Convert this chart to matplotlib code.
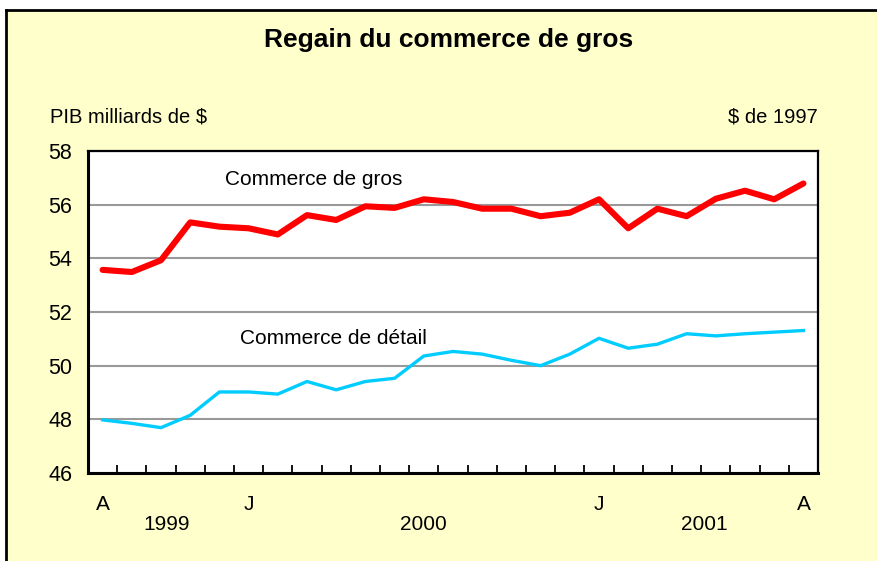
import matplotlib

matplotlib.use("Agg")
import matplotlib.pyplot as plt
from matplotlib.patches import Rectangle
from matplotlib.transforms import blended_transform_factory

plt.rcParams["font.family"] = ["Liberation Sans", "DejaVu Sans"]

# Monthly, August 1999 to August 2001
months = list(range(25))
gros = [53.57, 53.49, 53.93, 55.34, 55.18, 55.12, 54.89, 55.61, 55.43, 55.94,
        55.88, 56.20, 56.10, 55.85, 55.85, 55.57, 55.70, 56.20, 55.12, 55.85,
        55.57, 56.22, 56.52, 56.20, 56.79]
detail = [47.98, 47.85, 47.69, 48.15, 49.02, 49.02, 48.94, 49.41, 49.10, 49.41,
          49.53, 50.36, 50.53, 50.43, 50.20, 50.00, 50.43, 51.02, 50.65, 50.80,
          51.19, 51.11, 51.19, 51.25, 51.31]
month_labels = {0: "A", 5: "J", 17: "J", 24: "A"}
year_labels = {2.2: "1999", 11.0: "2000", 20.6: "2001"}
y_ticks = [46, 48, 50, 52, 54, 56, 58]

BG = "#FFFFCC"

fig = plt.figure(figsize=(8.78, 5.61), dpi=100)
fig.patch.set_facecolor("white")
# yellow panel with black top/left border, kept behind the axes
panel = Rectangle((7 / 878, 0), 1.0, 1 - 11 / 561, transform=fig.transFigure,
                  facecolor=BG, edgecolor="none", zorder=-5)
fig.add_artist(panel)
fig.add_artist(plt.Line2D([6 / 878, 6 / 878], [0, 1 - 10 / 561], color="black",
                          linewidth=2.0, transform=fig.transFigure, zorder=-4))
fig.add_artist(plt.Line2D([6 / 878, 1], [1 - 10 / 561, 1 - 10 / 561], color="black",
                          linewidth=2.0, transform=fig.transFigure, zorder=-4))

ax = fig.add_axes((88 / 878, 1 - 473 / 561, 730 / 878, 322 / 561))
ax.set_facecolor("white")

ax.plot(months, gros, color="#FF0000", linewidth=4.4, solid_joinstyle="round",
        solid_capstyle="round", zorder=3)
ax.plot(months, detail, color="#00CCFF", linewidth=2.4, solid_joinstyle="round", zorder=3)

ax.set_xlim(-0.5, 24.5)
ax.set_ylim(46, 58)
ax.set_yticks(y_ticks)
ax.set_yticklabels([str(v) for v in y_ticks], fontsize=15.5)
ax.tick_params(axis="y", length=0, pad=11.5)
ax.yaxis.grid(True, color="#999999", linewidth=1.5)
ax.set_axisbelow(True)

ax.set_xticks([m + 0.5 for m in months[:-1]])
ax.set_xticklabels([])
ax.tick_params(axis="x", direction="in", length=6, width=1.3, color="black")

for side in ("left", "bottom"):
    ax.spines[side].set_linewidth(2.2)
for side in ("top", "right"):
    ax.spines[side].set_linewidth(1.6)

trans = blended_transform_factory(ax.transData, ax.transAxes)
for x, lab in month_labels.items():
    ax.text(x, -0.097, lab, transform=trans, ha="center", va="center", fontsize=15)
for x, lab in year_labels.items():
    ax.text(x, -0.160, lab, transform=trans, ha="center", va="center", fontsize=15)

ax.text(4.2, 56.95, "Commerce de gros", ha="left", va="center", fontsize=15)
ax.text(4.7, 51.0, "Commerce de détail", ha="left", va="center", fontsize=15)

fig.text(449 / 878, 1 - 40 / 561, "Regain du commerce de gros", ha="center", va="center",
         fontsize=19, fontweight="bold")
fig.text(50 / 878, 1 - 117 / 561, "PIB milliards de $", ha="left", va="center", fontsize=14.5)
fig.text(818 / 878, 1 - 117 / 561, "$ de 1997", ha="right", va="center", fontsize=14.5)

fig.savefig("out.png", dpi=100, facecolor=fig.get_facecolor())
